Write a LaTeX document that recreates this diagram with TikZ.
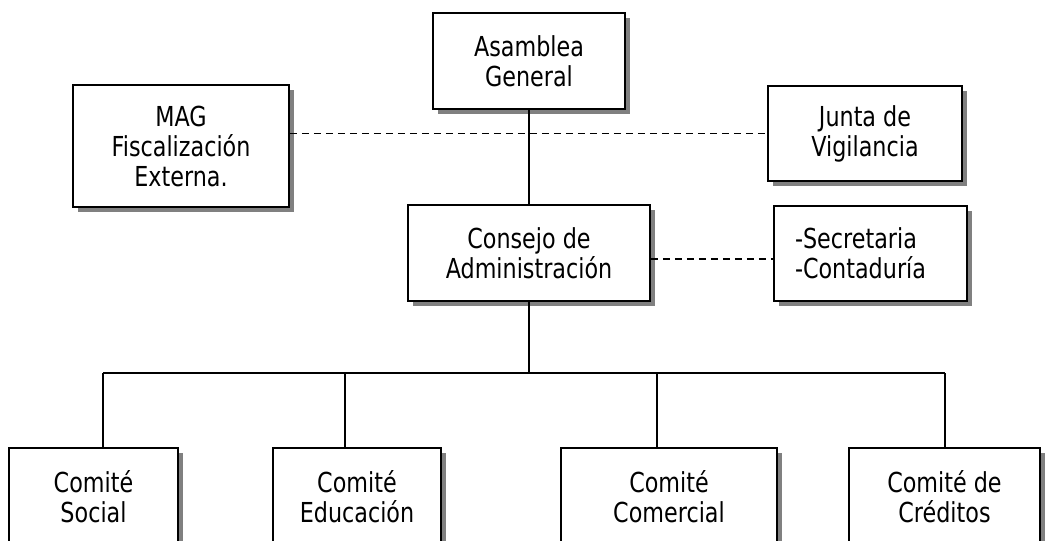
\documentclass[tikz,border=0pt]{standalone}
\usepackage{fontspec}
\setmainfont{DejaVu Sans}[FakeStretch=0.81]
\usetikzlibrary{shadows,calc}
\tikzset{
  box/.style={draw=black, line width=1.9pt, fill=white, align=center, inner sep=0pt,
    font=\fontsize{27.5}{30}\selectfont,
    drop shadow={shadow xshift=5pt, shadow yshift=-5pt, opacity=1, fill=black!50}},
  conn/.style={line width=1.9pt, draw=black},
  dconn/.style={line width=1.8pt, draw=black, dash pattern=on 7pt off 5pt}
}
\begin{document}
\begin{tikzpicture}[x=1pt,y=-1pt]
\useasboundingbox (0,0) rectangle (1053,541);
\clip (0,0) rectangle (1053,541);
\node[box, minimum width=192pt, minimum height=96pt] (asm) at (529,61) {Asamblea\\General};
\node[box, minimum width=216pt, minimum height=122pt] (mag) at (181,146) {MAG\\Fiscalización\\Externa.};
\node[box, minimum width=194pt, minimum height=95pt] (junta) at (865,133.5) {Junta de\\Vigilancia};
\node[box, minimum width=242pt, minimum height=96pt] (cons) at (529,253) {Consejo de\\Administración};
\node[box, minimum height=95pt, text width=151pt, inner xsep=21pt, align=left] (sec) at (870.5,253.5) {-Secretaria\\-Contaduría};
\node[box, minimum width=169pt, minimum height=98pt] (c1) at (93.5,497) {Comité\\Social};
\node[box, minimum width=168pt, minimum height=98pt] (c2) at (357,497) {Comité\\Educación};
\node[box, minimum width=216pt, minimum height=98pt] (c3) at (669,497) {Comité\\Comercial};
\node[box, minimum width=191pt, minimum height=98pt] (c4) at (944.5,497) {Comité de\\Créditos};
\coordinate (b1) at (103,373);
\coordinate (b2) at (345,373);
\coordinate (b3) at (657,373);
\coordinate (b4) at (945,373);
\coordinate (bm) at (529,373);
\draw[conn] (asm.south) -- (cons.north);
\draw[conn] (cons.south) -- (bm);
\draw[conn] (b1) -- (b4);
\draw[conn] (b1) -- (b1 |- c1.north);
\draw[conn] (b2) -- (b2 |- c2.north);
\draw[conn] (b3) -- (b3 |- c3.north);
\draw[conn] (b4) -- (b4 |- c4.north);
\draw[dconn] (mag.east |- junta.west) -- (junta.west);
\draw[dconn] ([yshift=-6pt]cons.east) -- ([yshift=-6pt]cons.east -| sec.west);
\end{tikzpicture}
\end{document}
